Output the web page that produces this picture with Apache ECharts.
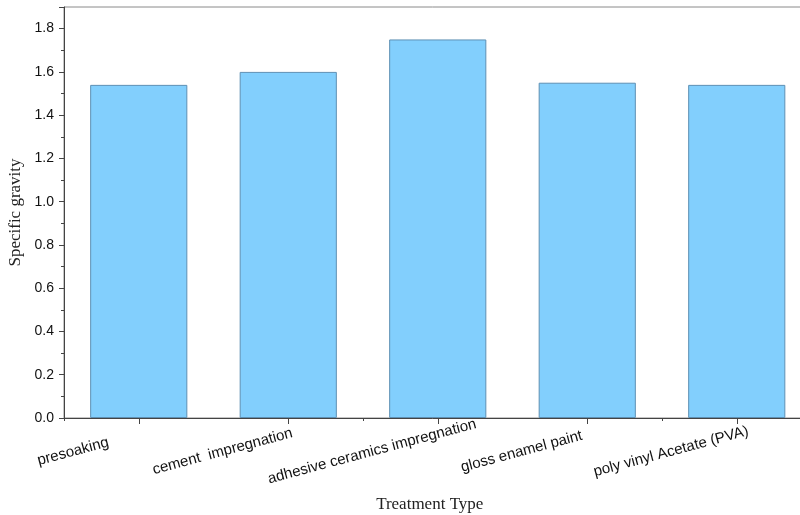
<!DOCTYPE html>
<html>
<head>
<meta charset="utf-8">
<script src="https://cdn.jsdelivr.net/npm/echarts@6/dist/echarts.min.js"></script>
<style>
  html, body { margin: 0; padding: 0; background: #fff; }
  #chart { width: 800px; height: 515px; }
</style>
</head>
<body>
<div id="chart"></div>
<script>
// Specific gravity of samples by treatment type
const treatments = [
  'presoaking',
  'cement  impregnation',
  'adhesive ceramics impregnation',
  'gloss enamel paint',
  'poly vinyl Acetate (PVA)'
];
const specificGravity = [1.54, 1.60, 1.75, 1.55, 1.54];
const yAxisMax = 1.9;
const yTickStep = 0.2;

const chart = echarts.init(document.getElementById('chart'), null, { renderer: 'canvas' });

const axisColor = '#444';
const sansFont = 'Liberation Sans, Arial, sans-serif';
const serifFont = 'Liberation Serif, Times New Roman, serif';

chart.setOption({
  animation: false,
  backgroundColor: '#fff',
  grid: {
    left: 64,
    top: 7,
    width: 747.5,
    bottom: 97,
    outerBoundsMode: 'none',
    containLabel: false,
    show: true,
    borderColor: '#8a8a8a',
    borderWidth: 1,
    backgroundColor: 'transparent'
  },
  xAxis: [
    {
      type: 'category',
      data: treatments,
      name: 'Treatment Type',
      nameLocation: 'middle',
      nameGap: 78,
      nameTextStyle: { fontFamily: serifFont, fontSize: 17, color: '#222', padding: [0, 16, 0, 0] },
      axisLine: { show: true, lineStyle: { color: axisColor, width: 1 } },
      axisTick: { show: true, alignWithLabel: true, length: 6, lineStyle: { color: axisColor } },
      axisLabel: {
        rotate: 15,
        align: 'center',
        verticalAlign: 'middle',
        padding: [0, 136, 0, 0],
        margin: 16,
        fontFamily: sansFont,
        fontSize: 15,
        color: '#111'
      },
      splitLine: { show: false }
    },
    {
      // boundary ticks between categories
      type: 'category',
      data: treatments,
      position: 'bottom',
      axisLine: { show: false },
      axisTick: { show: true, length: 3, lineStyle: { color: axisColor } },
      axisLabel: { show: false },
      splitLine: { show: false }
    }
  ],
  yAxis: {
    type: 'value',
    min: 0,
    max: yAxisMax,
    interval: yTickStep,
    name: 'Specific gravity',
    nameLocation: 'middle',
    nameGap: 38,
    nameRotate: 90,
    nameTextStyle: { fontFamily: serifFont, fontSize: 17, color: '#222' },
    axisLine: { show: true, lineStyle: { color: axisColor, width: 1 } },
    axisTick: { show: true, inside: false, length: 5, lineStyle: { color: axisColor } },
    minorTick: { show: true, splitNumber: 2, length: 3, lineStyle: { color: axisColor } },
    axisLabel: {
      margin: 10,
      fontFamily: sansFont,
      fontSize: 14,
      color: '#111',
      showMaxLabel: false,
      formatter: v => v.toFixed(1)
    },
    splitLine: { show: false },
    minorSplitLine: { show: false }
  },
  series: [{
    type: 'bar',
    data: specificGravity,
    barWidth: '65%',
    itemStyle: {
      color: '#82CFFD',
      borderColor: '#5E90B4',
      borderWidth: 1
    }
  }]
});
</script>
</body>
</html>
